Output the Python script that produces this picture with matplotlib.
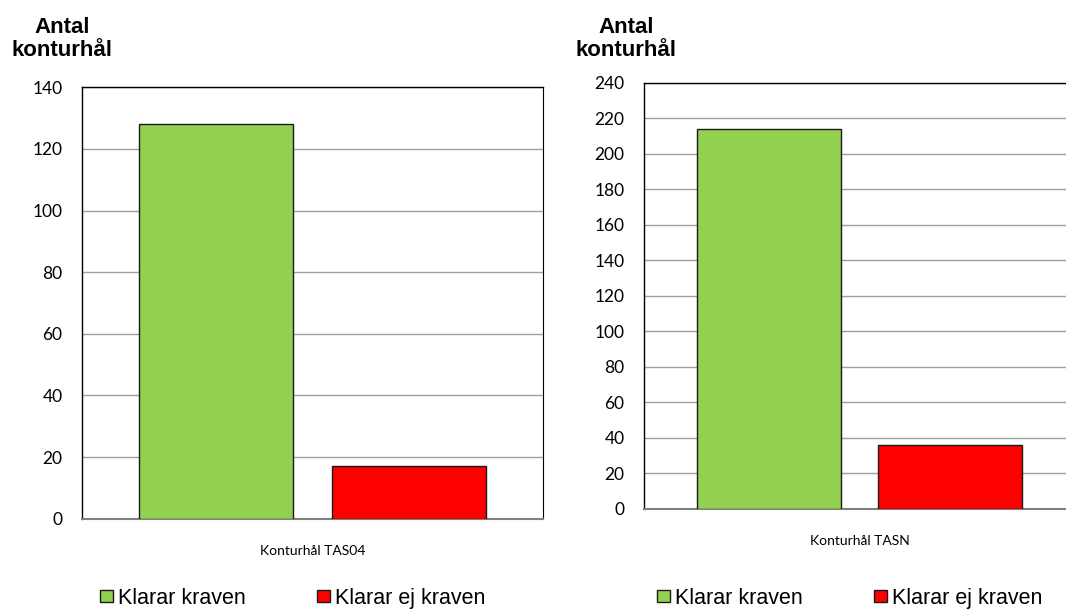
import matplotlib
matplotlib.use("Agg")
import matplotlib.pyplot as plt
import numpy as np

# Counts of contour holes per requirement status
series_names = ["Klarar kraven", "Klarar ej kraven"]
series_colors = ["#92D050", "#FF0000"]
tas04_values = [128, 17]
tasn_values = [214, 36]
tas04_label = "Konturhål TAS04"
tasn_label = "Konturhål TASN"
tas04_ticks = list(range(0, 141, 20))
tasn_ticks = list(range(0, 241, 20))
ylabel_text = "Antal\nkonturhål"

W, H = 1066, 610
fig = plt.figure(figsize=(W / 100, H / 100), dpi=100)


def px_axes(x0, x1, y_top, y_bot):
    return fig.add_axes([x0 / W, 1 - y_bot / H, (x1 - x0) / W, (y_bot - y_top) / H])


def draw_panel(ax, values, ticks, xlabel, right_spine, title_x, legend_x):
    offsets = [-0.209, 0.209]
    for off, v, c, name in zip(offsets, values, series_colors, series_names):
        ax.bar(off, v, width=0.334, color=c, edgecolor="#1a1a1a",
               linewidth=1.0, label=name, zorder=3)
    ax.set_xlim(-0.5, 0.5)
    ax.set_ylim(ticks[0], ticks[-1])
    ax.set_yticks(ticks)
    ax.set_xticks([])
    ax.yaxis.grid(True, color="#a0a0a0", linewidth=1.0, zorder=0)
    ax.set_axisbelow(True)
    for s in ["left", "top"]:
        ax.spines[s].set_color("black")
        ax.spines[s].set_linewidth(1.0)
    ax.spines["right"].set_visible(right_spine)
    ax.spines["right"].set_color("black")
    ax.spines["bottom"].set_color("#808080")
    ax.spines["bottom"].set_linewidth(1.5)
    ax.tick_params(axis="y", length=0, pad=14, labelsize=12.5)
    for lbl in ax.get_yticklabels():
        lbl.set_fontfamily("Lato")
    ax.text(0.5, -0.062, xlabel, transform=ax.transAxes, ha="center",
            va="top", fontsize=10, family="Lato")
    fig.text(title_x / W, 1 - 17 / H, ylabel_text, ha="center", va="top",
             fontsize=16, fontweight="bold", family="Liberation Sans",
             linespacing=1.12)
    handles, labels = ax.get_legend_handles_labels()
    fig.legend(handles, labels, loc="lower left",
               bbox_to_anchor=(legend_x / W, 1 / H), ncol=2, frameon=False,
               prop={"family": "Liberation Sans", "size": 15.5},
               handlelength=0.6, handleheight=0.5, handletextpad=0.25,
               columnspacing=3.3, borderaxespad=0, borderpad=0)


ax1 = px_axes(82, 542.7, 87.3, 518.7)
draw_panel(ax1, tas04_values, tas04_ticks, tas04_label, True, 62, 100)

ax2 = px_axes(644, 1075, 82.7, 508.7)
draw_panel(ax2, tasn_values, tasn_ticks, tasn_label, False, 626, 657)

fig.savefig("out.png", dpi=100)
